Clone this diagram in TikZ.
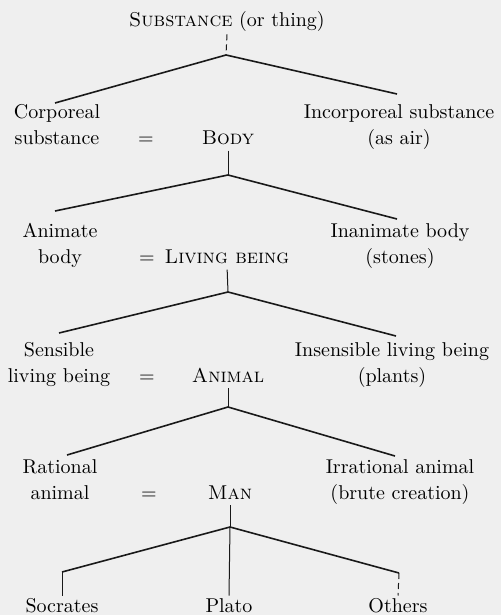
\documentclass[tikz,border=0pt]{standalone}
\usepackage{tikz}
\usetikzlibrary{positioning, calc, backgrounds}
\definecolor{paper}{RGB}{239,239,239}

\begin{document}
\begin{tikzpicture}[
  x=0.5pt, y=-0.5pt,
  term/.style={align=center, inner sep=1pt, anchor=base,
               font=\fontsize{10}{13}\selectfont},
  genus/.style={inner sep=1pt, anchor=base,
                font=\fontsize{10}{13}\selectfont\scshape},
  eqsign/.style={inner sep=1pt, anchor=base, font=\fontsize{10}{13}\selectfont},
  branch/.style={line width=0.8pt, color=black!90},
  stem/.style={line width=0.5pt, color=black!90},
]

% --- Paper ---
\fill[paper] (0,0) rectangle (501,615);
\useasboundingbox (0,0) rectangle (501,615);

% --- Root ---
\node[term] (subst) at (227,27) {\textsc{Substance} (or thing)};
\coordinate (a0) at (226,55);
\coordinate (l0) at (55,103);
\coordinate (r0) at (397,94);

% --- Level 1 ---
\node[term] (corp) at (57,144) {Corporeal\\substance};
\node[eqsign] (eq1) at (146,144) {=};
\node[genus] (body) at (228,144) {Body};
\node[term] (incorp) at (399,144) {Incorporeal substance\\(as air)};
\coordinate (a1) at (228,175);
\coordinate (l1) at (55,211);
\coordinate (r1) at (397,219);

% --- Level 2 ---
\node[term] (anim) at (60,263) {Animate\\body};
\node[eqsign] (eq2) at (147,263) {=};
\node[genus] (living) at (227,263) {Living being};
\node[term] (inanim) at (400,263) {Inanimate body\\(stones)};
\coordinate (a2) at (228,292);
\coordinate (l2) at (59,333);
\coordinate (r2) at (396,336);

% --- Level 3 ---
\node[term] (sens) at (59,382) {Sensible\\living being};
\node[eqsign] (eq3) at (147,382) {=};
\node[genus] (animal) at (228,382) {Animal};
\node[term] (insens) at (392,382) {Insensible living being\\(plants)};
\coordinate (a3) at (228,407);
\coordinate (l3) at (67,455);
\coordinate (r3) at (395,456);

% --- Level 4 ---
\node[term] (rat) at (60,499) {Rational\\animal};
\node[eqsign] (eq4) at (149,499) {=};
\node[genus] (man) at (230,499) {Man};
\node[term] (irrat) at (400,499) {Irrational animal\\(brute creation)};
\coordinate (a4) at (230,527);
\coordinate (l4) at (62,572);
\coordinate (r4) at (399,573);

% --- Individuals ---
\node[term] (socr) at (62,612) {Socrates};
\node[term] (plato) at (229,612) {Plato};
\node[term] (others) at (398,612) {Others};

% --- Stems ---
\draw[stem, densely dashed] (subst.south) -- (a0);
\draw[stem, shorten <=2pt] (body.south) -- (a1);
\draw[stem, shorten <=2pt] (living.south) -- (a2);
\draw[stem, shorten <=2pt] (animal.south) -- (a3);
\draw[stem, shorten <=2pt] (man.south) -- (a4);

% --- Branches ---
\draw[branch] (l0) -- (a0) -- (r0);
\draw[branch] (l1) -- (a1) -- (r1);
\draw[branch] (l2) -- (a2) -- (r2);
\draw[branch] (l3) -- (a3) -- (r3);
\draw[branch] (l4) -- (a4) -- (r4);
\draw[stem] (a4) -- (plato.north);
\draw[stem] (l4) -- (socr.north);
\draw[stem, densely dashed] (r4) -- (others.north);

\end{tikzpicture}
\end{document}
